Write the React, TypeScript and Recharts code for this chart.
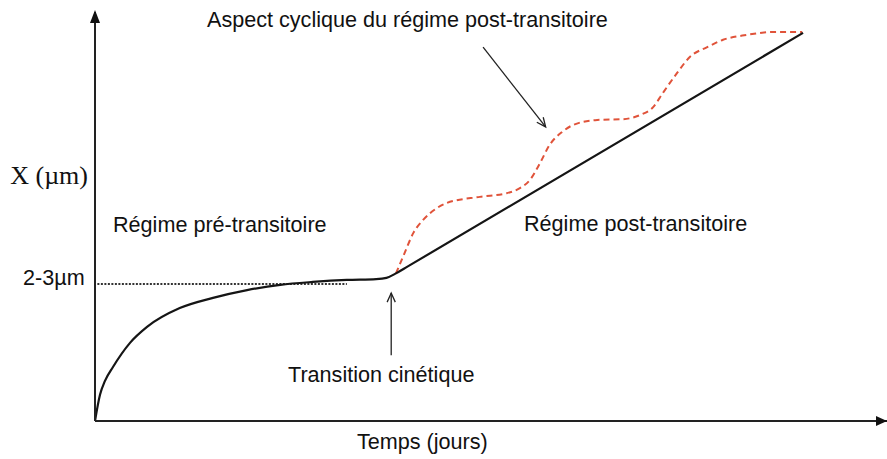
import React from 'react';
import { LineChart, Line, XAxis, YAxis, ReferenceLine, ReferenceDot } from 'recharts';

const W = 887;
const H = 459;

// courbe cinétique (noir) : régime pré-transitoire puis droite post-transitoire
const kineticX = [0, 0.63, 1.26, 2.27, 4.42, 6.57, 10.7, 14.9, 19.2, 23.4, 27.5, 31.8, 35.5, 36.8, 38.0, 39.5, 89.4];
const kineticY = [0, 6.4, 9.8, 13.2, 19.1, 23.0, 27.6, 30.1, 32.0, 33.3, 34.0, 34.5, 34.7, 35.0, 36.1, 37.8, 94.9];

// aspect cyclique (rouge, pointillés)
const cyclicX = [38.0, 39.1, 40.2, 41.4, 43.2, 44.4, 48.6, 52.0, 53.7, 54.9, 56.2, 57.4, 59.0, 60.4, 63.4, 66.7, 68.8, 70.5, 71.7, 73.5, 75.1, 77.3, 79.3, 82.3, 85.6, 89.3];
const cyclicY = [36.1, 41.1, 46.0, 49.1, 52.1, 53.3, 54.8, 55.7, 57.0, 58.9, 63.1, 67.5, 70.7, 72.4, 73.6, 73.8, 74.8, 76.8, 80.2, 85.1, 89.0, 91.4, 93.2, 94.4, 95.1, 95.1];

// palier 2-3 µm
const plateauX = [0.3, 31.8];
const plateauY = [33.5, 33.5];

const kinetic = kineticX.map((x, i) => ({ x, y: kineticY[i] }));
const cyclic = cyclicX.map((x, i) => ({ x, y: cyclicY[i] }));
const plateau = plateauX.map((x, i) => ({ x, y: plateauY[i] }));

const arrowTransition = [{ x: 37.4, y: 16.1 }, { x: 37.4, y: 31.3 }];
const arrowCyclic = [{ x: 49.0, y: 91.4 }, { x: 56.9, y: 71.9 }];

const ArrowLine = (props: any) => {
  const { x1, y1, x2, y2 } = props;
  const a = Math.atan2(y2 - y1, x2 - x1);
  const len = 10;
  const spread = 0.42;
  const p1x = x2 - len * Math.cos(a - spread);
  const p1y = y2 - len * Math.sin(a - spread);
  const p2x = x2 - len * Math.cos(a + spread);
  const p2y = y2 - len * Math.sin(a + spread);
  return (
    <g>
      <line x1={x1} y1={y1} x2={x2} y2={y2} stroke="#222" strokeWidth={1.3} />
      <polyline points={`${p1x},${p1y} ${x2},${y2} ${p2x},${p2y}`} fill="none" stroke="#222" strokeWidth={1.3} />
    </g>
  );
};

const UpHead = (props: any) => {
  const { cx, cy } = props;
  return <polygon points={`${cx},${cy - 2} ${cx - 5},${cy + 11} ${cx + 5},${cy + 11}`} fill="#111" />;
};

const RightHead = (props: any) => {
  const { cx, cy } = props;
  return <polygon points={`${cx},${cy} ${cx - 11},${cy - 5} ${cx - 11},${cy + 5}`} fill="#111" />;
};

const sans = '"Liberation Sans", Arial, sans-serif';

export default function App() {
  return (
    <div style={{ position: 'absolute', left: 0, top: 0, width: W, height: H, background: '#fff' }}>
      <LineChart width={W} height={H} margin={{ top: 12, right: 0, bottom: 0, left: 0 }}>
        <XAxis
          type="number"
          dataKey="x"
          domain={[0, 100]}
          height={38}
          tick={false}
          tickLine={false}
          axisLine={{ stroke: '#222', strokeWidth: 2 }}
        />
        <YAxis
          type="number"
          dataKey="y"
          domain={[0, 100]}
          width={95}
          tick={false}
          tickLine={false}
          axisLine={{ stroke: '#222', strokeWidth: 2 }}
        />
        <Line
          data={plateau}
          dataKey="y"
          type="linear"
          stroke="#333"
          strokeWidth={1.8}
          strokeDasharray="2 1.5"
          dot={false}
          activeDot={false}
          isAnimationActive={false}
        />
        <Line
          data={cyclic}
          dataKey="y"
          type="monotone"
          stroke="#e0533a"
          strokeWidth={2}
          strokeDasharray="6 4"
          dot={false}
          activeDot={false}
          isAnimationActive={false}
        />
        <Line
          data={kinetic}
          dataKey="y"
          type="monotone"
          stroke="#151515"
          strokeWidth={2.2}
          dot={false}
          activeDot={false}
          isAnimationActive={false}
        />
        <ReferenceLine segment={arrowTransition} shape={ArrowLine} ifOverflow="visible" />
        <ReferenceLine segment={arrowCyclic} shape={ArrowLine} ifOverflow="visible" />
        <ReferenceDot x={0} y={100} r={0} shape={UpHead} ifOverflow="visible" />
        <ReferenceDot x={100} y={0} r={0} shape={RightHead} ifOverflow="visible" />
      </LineChart>
      <svg width={W} height={H} style={{ position: 'absolute', left: 0, top: 0, pointerEvents: 'none' }}>
        <g fill="#111" fontFamily={sans} fontSize={21.6}>
          <text x={207} y={27}>Aspect cyclique du régime post-transitoire</text>
          <text x={113} y={232}>Régime pré-transitoire</text>
          <text x={524} y={231}>Régime post-transitoire</text>
          <text x={23} y={285}>2-3µm</text>
          <text x={288} y={382}>Transition cinétique</text>
          <text x={357} y={449}>Temps (jours)</text>
        </g>
        <text x={88} y={184} textAnchor="end" fill="#111" fontFamily='"Liberation Serif", "Times New Roman", serif' fontSize={26}>
          X (µm)
        </text>
      </svg>
    </div>
  );
}
